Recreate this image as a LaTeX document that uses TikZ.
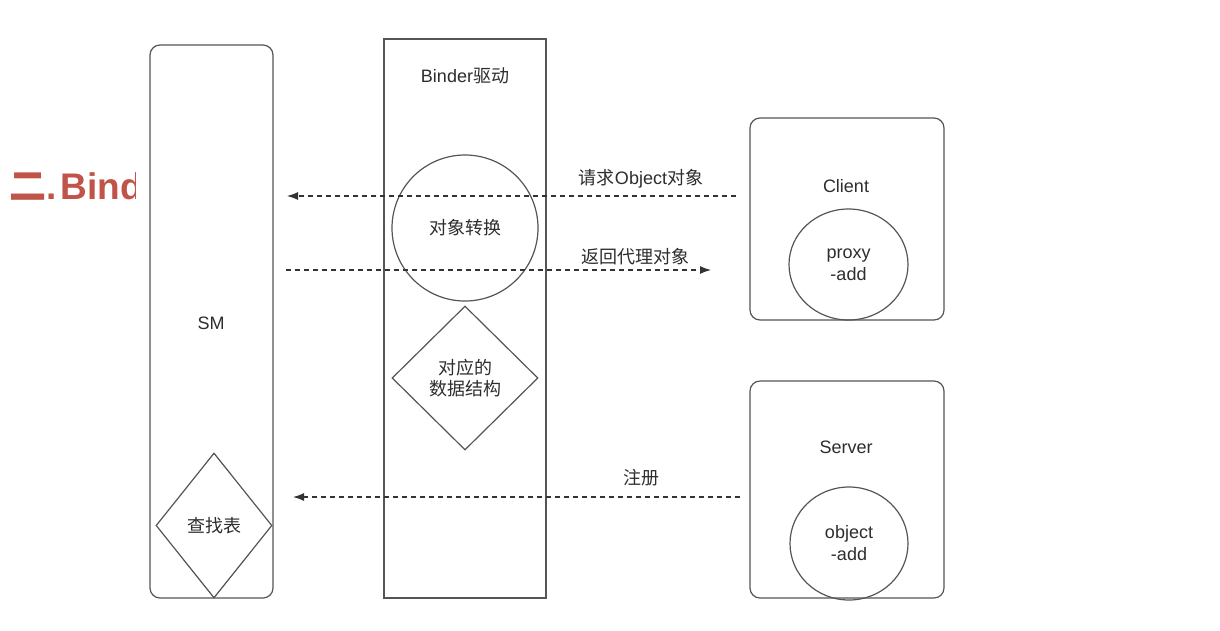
\documentclass[tikz,border=0pt]{standalone}
\usepackage{fontspec}
\setmainfont{Liberation Sans}
\newfontfamily\cjk{Noto Sans CJK SC}
\usetikzlibrary{arrows.meta,shapes.geometric}
\definecolor{ln}{RGB}{85,85,85}
\definecolor{tx}{RGB}{45,45,45}
\definecolor{red}{RGB}{192,84,72}
\tikzset{
  every node/.style={font=\fontsize{18}{22}\selectfont, text=tx},
  box/.style={draw=ln, line width=1.2pt},
  rbox/.style={box, rounded corners=10pt},
  msg/.style={draw=black!80, line width=1.1pt, dash pattern=on 5pt off 4pt, -{Latex[length=11pt,width=8pt]}},
  lbl/.style={inner sep=0pt},
}
\begin{document}
\begin{tikzpicture}[x=1pt,y=-1pt]
\useasboundingbox (0,0) rectangle (1220,630);
% heading, cut off on the right
\begin{scope}
\clip (0,150) rectangle (135,220);
\node[anchor=west, inner sep=0pt, text=red, font=\fontsize{37}{40}\selectfont\bfseries] (head) at (9,186) {{\cjk 二}.\hspace{4pt}Bind};
\end{scope}
% SM
\draw[rbox] (150,45) rectangle (273,598);
\node[lbl] (sm) at (211,323) {SM};
% Binder
\draw[box] (384,39) rectangle (546,598);
\node[lbl] (binder) at (465,76) {Binder{\cjk 驱动}};
\node[circle, draw=ln, line width=1.2pt, minimum size=146pt, inner sep=0pt] (conv) at (465,228) {};
\node[lbl] at (conv.center) {\cjk 对象转换};
\node[diamond, draw=ln, line width=1.2pt, minimum width=146pt, minimum height=144pt, inner sep=0pt] (ds) at (465,378) {};
\node[lbl, align=center] at (ds.center) {\cjk 对应的\\[-1pt]\cjk 数据结构};
\node[diamond, draw=ln, line width=1.2pt, minimum width=116pt, minimum height=145pt, inner sep=0pt] (lut) at (214,525.5) {};
\node[lbl] at (lut.center) {\cjk 查找表};
% Client
\draw[rbox] (750,118) rectangle (944,320);
\node[lbl] (client) at (846,186) {Client};
\node[ellipse, draw=ln, line width=1.2pt, minimum width=119pt, minimum height=111pt, inner sep=0pt] (proxy) at (848.5,264.5) {};
\node[lbl, align=center] at (proxy.center) {proxy\\-add};
% Server
\draw[rbox] (750,381) rectangle (944,598);
\node[lbl] (server) at (846,447) {Server};
\node[ellipse, draw=ln, line width=1.2pt, minimum width=118pt, minimum height=113pt, inner sep=0pt] (obj) at (849,543.5) {};
\node[lbl, align=center] at (obj.center) {object\\-add};
% messages
\coordinate (a1s) at (736,196);
\coordinate (a1e) at (287,196);
\draw[msg] (a1s) -- (a1e);
\node[lbl] (l1) at (641,179) {{\cjk 请求}Object{\cjk 对象}};
\coordinate (a2s) at (286,270);
\coordinate (a2e) at (711,270);
\draw[msg] (a2s) -- (a2e);
\node[lbl] (l2) at (635,257) {\cjk 返回代理对象};
\coordinate (a3s) at (740,497);
\coordinate (a3e) at (293,497);
\draw[msg] (a3s) -- (a3e);
\node[lbl] (l3) at (641,478) {\cjk 注册};
\end{tikzpicture}
\end{document}
